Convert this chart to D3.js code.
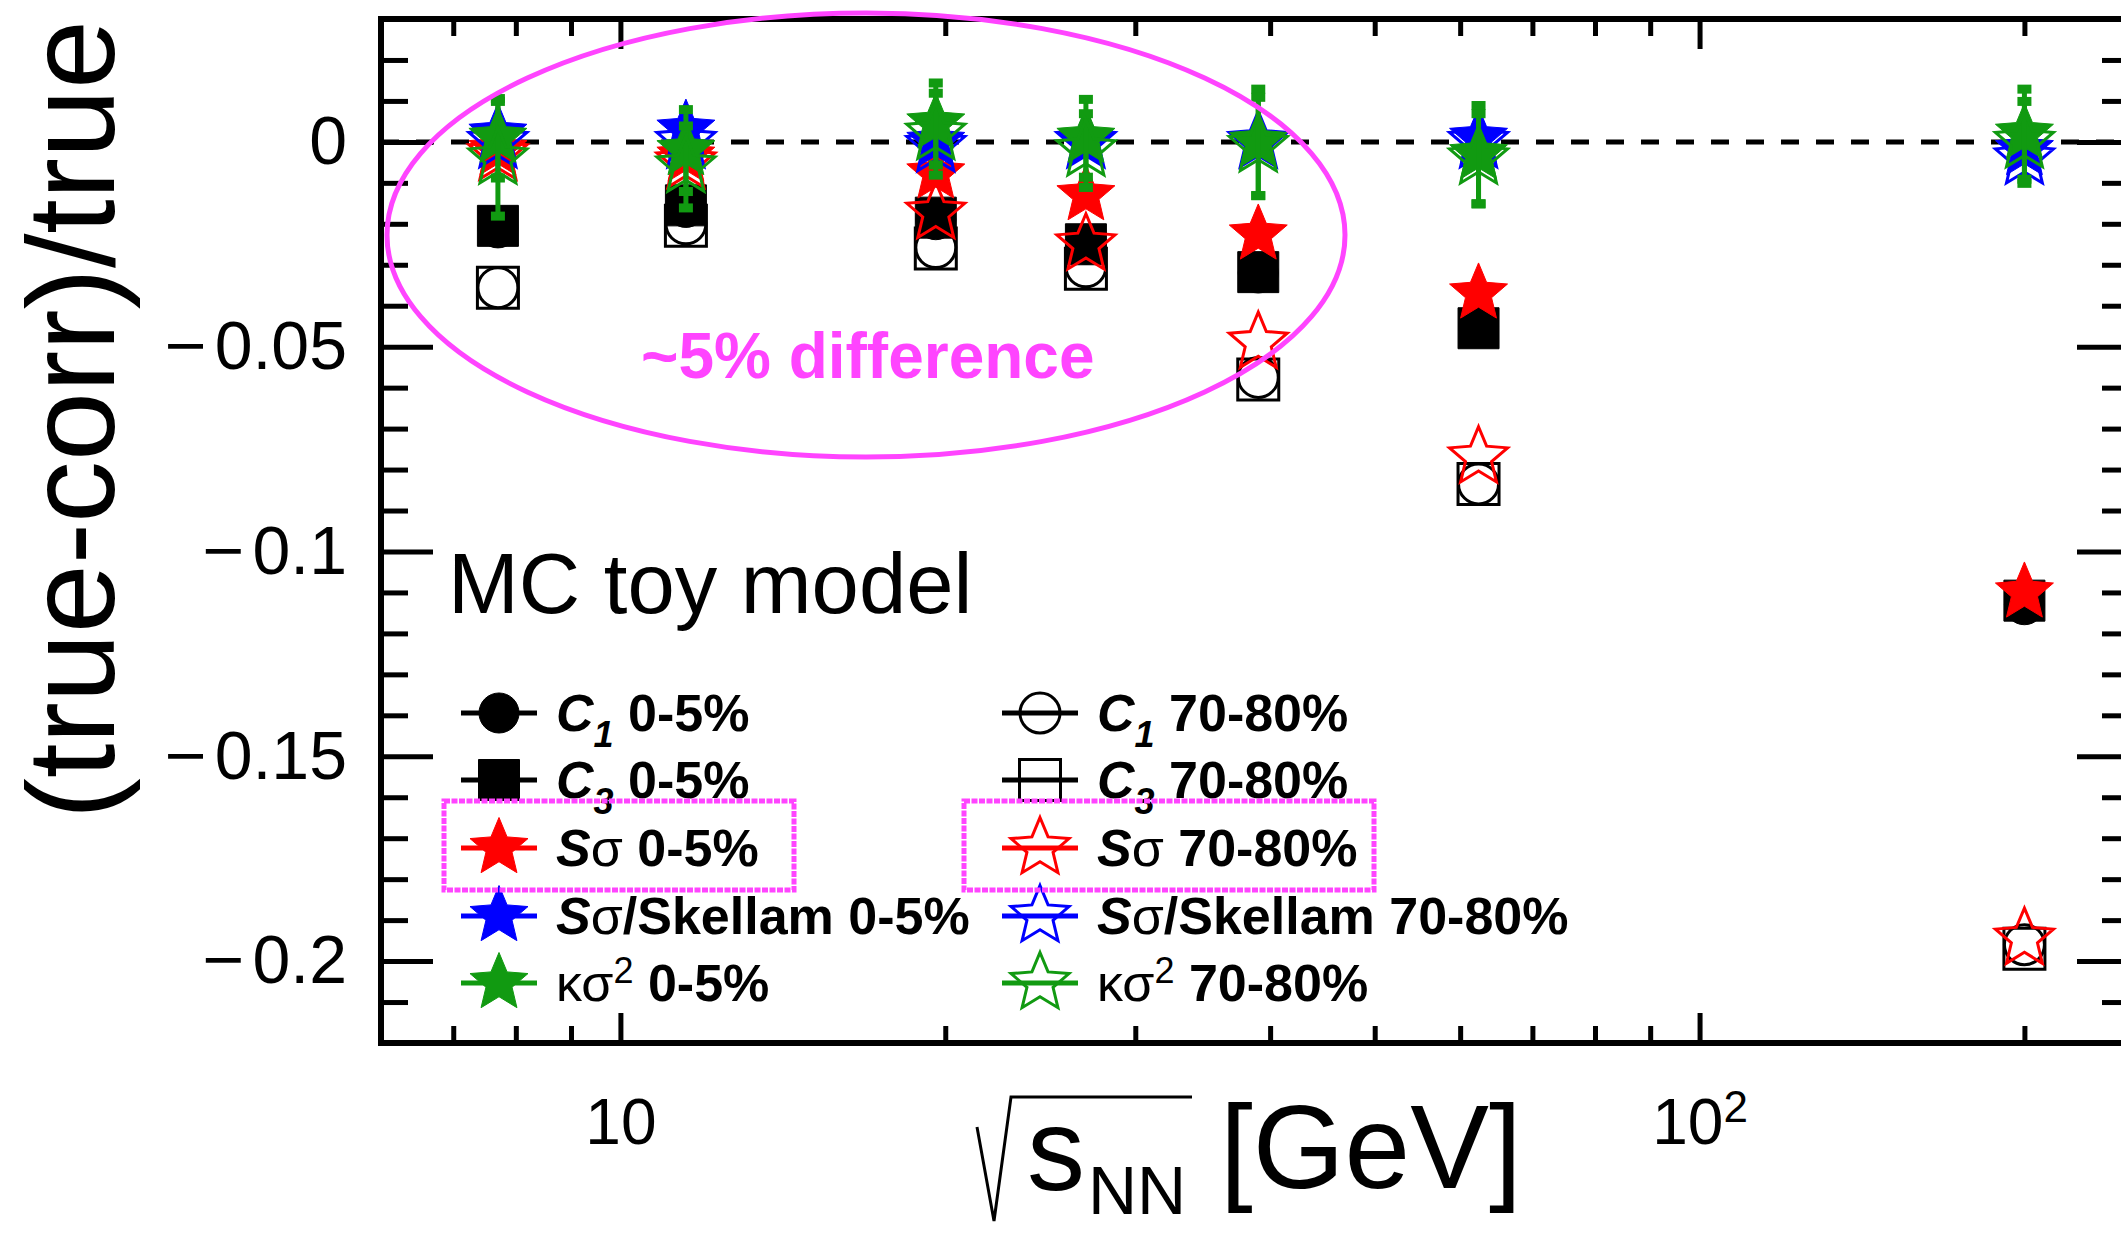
<!DOCTYPE html>
<html><head><meta charset="utf-8">
<script src="https://cdn.jsdelivr.net/npm/d3@7"></script>
<style>body{margin:0;background:#fff}</style>
</head><body>
<svg id="c" width="2121" height="1235" xmlns="http://www.w3.org/2000/svg"></svg>
<script>
// ---------------- data ----------------
const energies = [7.7, 11.5, 19.6, 27, 39, 62.4, 200];
const c1Central    = [-0.0210, -0.0160, -0.0190, -0.0250, -0.0320, -0.0450, -0.1130];
const c3Central    = [-0.0205, -0.0155, -0.0185, -0.0250, -0.0318, -0.0455, -0.1120];
const c1Peripheral = [-0.0356, -0.0200, -0.0258, -0.0305, -0.0575, -0.0835, -0.1960];
const c3Peripheral = [-0.0356, -0.0205, -0.0260, -0.0310, -0.0580, -0.0835, -0.1970];
const ssCentral    = [-0.0020, -0.0036, -0.0077, -0.0130, -0.0226, -0.0370, -0.1100];
const ssPeripheral = [-0.0030, -0.0050, -0.0173, -0.0250, -0.0490, -0.0770, -0.1945];
const skCentral    = [0.0020, 0.0030, 0.0000, 0.0000, 0.0000, 0.0010, -0.0020];
const skPeripheral = [0.0000, 0.0000, -0.0010, 0.0000, 0.0000, 0.0000, -0.0040];
const kCentral     = [0.0010, -0.0020, 0.0045, 0.0010, 0.0000, -0.0030, 0.0020];
const kCentralErr  = [0.0097, 0.0100, 0.0100, 0.0095, 0.0130, 0.0120, 0.0110];
const kPeripheral  = [-0.0040, -0.0060, 0.0020, -0.0020, -0.0010, -0.0040, 0.0000];
const kPeripheralErr = [0.0140, 0.0100, 0.0100, 0.0090, 0.0120, 0.0110, 0.0100];

const xTickValues = [10, 100];
const xTickLabels = ["10", "10"];
const xTickExponents = ["", "2"];
const xMinorTicks = [7, 8, 9, 20, 30, 40, 50, 60, 70, 80, 90, 200];
const yTickValues = [0, -0.05, -0.1, -0.15, -0.2];
const yTickLabels = ["0", "\u22120.05", "\u22120.1", "\u22120.15", "\u22120.2"];
const yMinorTicks = [-0.21, -0.19, -0.18, -0.17, -0.16, -0.14, -0.13, -0.12, -0.11, -0.09, -0.08, -0.07, -0.06, -0.04, -0.03, -0.02, -0.01, 0.01, 0.02];

// ---------------- setup ----------------
const FONT = "'Liberation Sans', Arial, Helvetica, sans-serif";
const RED = "#ff0000", BLUE = "#0000ff", GREEN = "#119a11", MAG = "#ff44ff";
const svg = d3.select("#c");
svg.append("rect").attr("width", 2121).attr("height", 1235).attr("fill", "#fff");

const L = 381, R = 2129, T = 19, B = 1043;
const x = d3.scaleLog().domain([6, 250]).range([L, R]);
const y = d3.scaleLinear().domain([-0.22, 0.03]).range([B, T]);

// ROOT-like five-pointed star (size = outer radius squared)
const rootStar = {
  draw(ctx, size) {
    const ro = Math.sqrt(size), ri = ro * 0.45;
    for (let k = 0; k < 10; k++) {
      const r = k % 2 ? ri : ro, a = -Math.PI / 2 + k * Math.PI / 5;
      const px = r * Math.cos(a), py = r * Math.sin(a);
      if (k === 0) ctx.moveTo(px, py); else ctx.lineTo(px, py);
    }
    ctx.closePath();
  }
};

const series = [
  {vals: c1Central,    shape: d3.symbolCircle, size: 1257, color: "#000", filled: true},
  {vals: c1Peripheral, shape: d3.symbolCircle, size: 1257, color: "#000", filled: false},
  {vals: c3Central,    shape: d3.symbolSquare, size: 1681, color: "#000", filled: true},
  {vals: c3Peripheral, shape: d3.symbolSquare, size: 1681, color: "#000", filled: false},
  {vals: ssCentral,    shape: rootStar, size: 930, color: RED, filled: true},
  {vals: ssPeripheral, shape: rootStar, size: 930, color: RED, filled: false},
  {vals: skCentral,    shape: rootStar, size: 930, color: BLUE, filled: true},
  {vals: skPeripheral, shape: rootStar, size: 930, color: BLUE, filled: false},
  {vals: kCentral,     errs: kCentralErr, shape: rootStar, size: 930, color: GREEN, filled: true},
  {vals: kPeripheral,  errs: kPeripheralErr, shape: rootStar, size: 930, color: GREEN, filled: false}
];

// ---------------- axes ----------------
function styleAxis(fs) {
  return g => {
    g.select(".domain").remove();
    g.selectAll(".tick line").attr("stroke", "#000").attr("stroke-width", 5);
    g.attr("font-family", FONT).attr("font-size", fs);
    g.selectAll(".tick text").attr("fill", "#000");
  };
}
// bottom
svg.append("g").attr("transform", `translate(0,${B})`)
  .call(d3.axisBottom(x).tickValues(xTickValues).tickSizeInner(-30).tickSizeOuter(0).tickPadding(56)
    .tickFormat((d, i) => xTickLabels[i]))
  .call(styleAxis(64))
  .call(g => g.selectAll(".tick text").each(function(d, i) {
    if (xTickExponents[i]) {
      d3.select(this).append("tspan").attr("dy", "-0.5em").attr("font-size", 44).text(xTickExponents[i]);
    }
  }));
svg.append("g").attr("transform", `translate(0,${B})`)
  .call(d3.axisBottom(x).tickValues(xMinorTicks).tickSizeInner(-17).tickSizeOuter(0).tickFormat(""))
  .call(styleAxis(64));
// top
svg.append("g").attr("transform", `translate(0,${T})`)
  .call(d3.axisTop(x).tickValues(xTickValues).tickSizeInner(-30).tickSizeOuter(0).tickFormat(""))
  .call(styleAxis(64));
svg.append("g").attr("transform", `translate(0,${T})`)
  .call(d3.axisTop(x).tickValues(xMinorTicks).tickSizeInner(-17).tickSizeOuter(0).tickFormat(""))
  .call(styleAxis(64));
// left
svg.append("g").attr("transform", `translate(${L},0)`)
  .call(d3.axisLeft(y).tickValues(yTickValues).tickSizeInner(-52).tickSizeOuter(0).tickPadding(34)
    .tickFormat((d, i) => yTickLabels[i]))
  .call(styleAxis(68))
  .call(g => g.selectAll(".tick text").each(function() {
    const s = d3.select(this), txt = s.text();
    if (txt.startsWith("\u2212")) {
      s.text(null);
      s.append("tspan").text("\u2212").attr("textLength", 42).attr("lengthAdjust", "spacingAndGlyphs");
      s.append("tspan").attr("dx", 8).text(txt.slice(1));
    }
  }));
svg.append("g").attr("transform", `translate(${L},0)`)
  .call(d3.axisLeft(y).tickValues(yMinorTicks).tickSizeInner(-27).tickSizeOuter(0).tickFormat(""))
  .call(styleAxis(68));
// right
svg.append("g").attr("transform", `translate(${R},0)`)
  .call(d3.axisRight(y).tickValues(yTickValues).tickSizeInner(-52).tickSizeOuter(0).tickFormat(""))
  .call(styleAxis(68));
svg.append("g").attr("transform", `translate(${R},0)`)
  .call(d3.axisRight(y).tickValues(yMinorTicks).tickSizeInner(-27).tickSizeOuter(0).tickFormat(""))
  .call(styleAxis(68));
// frame
svg.append("rect").attr("x", L).attr("y", T).attr("width", R - L).attr("height", B - T)
  .attr("fill", "none").attr("stroke", "#000").attr("stroke-width", 6);

// zero line
svg.append("line").attr("x1", L).attr("x2", R).attr("y1", y(0)).attr("y2", y(0))
  .attr("stroke", "#000").attr("stroke-width", 5).attr("stroke-dasharray", "18,17");

// ---------------- axis titles ----------------
svg.append("text").attr("transform", "translate(114,20) rotate(-90)")
  .attr("text-anchor", "end").attr("font-family", FONT).attr("font-size", 124)
  .text("(true-corr)/true");

svg.append("path").attr("d", "M977,1127 L994,1221 L1011,1097 L1192,1097")
  .attr("fill", "none").attr("stroke", "#000").attr("stroke-width", 3);
svg.append("text").attr("x", 1027).attr("y", 1190).attr("font-family", FONT).attr("font-size", 116).text("s");
svg.append("text").attr("x", 1088).attr("y", 1214).attr("font-family", FONT).attr("font-size", 68).text("NN");
svg.append("text").attr("x", 1220).attr("y", 1188).attr("font-family", FONT).attr("font-size", 118).text("[GeV]");

// ---------------- data marks ----------------
const plot = svg.append("g");
series.forEach(s => {
  const g = plot.append("g");
  if (s.errs) {
    energies.forEach((e, i) => {
      const y1 = y(s.vals[i] + s.errs[i]), y2 = y(s.vals[i] - s.errs[i]);
      g.append("line").attr("x1", x(e)).attr("x2", x(e)).attr("y1", y1).attr("y2", y2)
        .attr("stroke", s.color).attr("stroke-width", 5);
      [y1, y2].forEach(yy => g.append("rect").attr("x", x(e) - 7).attr("y", yy - 4)
        .attr("width", 14).attr("height", 9).attr("fill", s.color));
    });
  }
  g.selectAll("path.m").data(energies).join("path").attr("class", "m")
    .attr("transform", (e, i) => `translate(${x(e)},${y(s.vals[i])})`)
    .attr("d", d3.symbol(s.shape, s.size)())
    .attr("fill", s.filled ? s.color : "none")
    .attr("stroke", s.color).attr("stroke-width", s.filled ? 1 : 3);
});

// ---------------- text & legend ----------------
svg.append("text").attr("x", 448).attr("y", 613).attr("font-family", FONT).attr("font-size", 85).text("MC toy model");

const legendLabels = [
  [{t: "C", i: 1, b: 1}, {t: "1", i: 1, b: 1, sub: 1}, {t: " 0-5%", b: 1}],
  [{t: "C", i: 1, b: 1}, {t: "3", i: 1, b: 1, sub: 1}, {t: " 0-5%", b: 1}],
  [{t: "S", i: 1, b: 1}, {t: "\u03c3"}, {t: " 0-5%", b: 1}],
  [{t: "S", i: 1, b: 1}, {t: "\u03c3"}, {t: "/Skellam 0-5%", b: 1}],
  [{t: "\u03ba\u03c3"}, {t: "2", sup: 1}, {t: " 0-5%", b: 1}],
  [{t: "C", i: 1, b: 1}, {t: "1", i: 1, b: 1, sub: 1}, {t: " 70-80%", b: 1}],
  [{t: "C", i: 1, b: 1}, {t: "3", i: 1, b: 1, sub: 1}, {t: " 70-80%", b: 1}],
  [{t: "S", i: 1, b: 1}, {t: "\u03c3"}, {t: " 70-80%", b: 1}],
  [{t: "S", i: 1, b: 1}, {t: "\u03c3"}, {t: "/Skellam 70-80%", b: 1}],
  [{t: "\u03ba\u03c3"}, {t: "2", sup: 1}, {t: " 70-80%", b: 1}]
];
const legendOrder = [0, 2, 4, 6, 8, 1, 3, 5, 7, 9]; // series index per legend slot
const colX = [499, 1040], rowY = [713, 780, 848, 916, 983];
legendOrder.forEach((si, k) => {
  const s = series[si];
  const col = Math.floor(k / 5), row = k % 5;
  const cx = colX[col], cy = rowY[row];
  svg.append("line").attr("x1", cx - 38).attr("x2", cx + 38).attr("y1", cy).attr("y2", cy)
    .attr("stroke", s.color).attr("stroke-width", 5);
  svg.append("path").attr("transform", `translate(${cx},${cy})`).attr("d", d3.symbol(s.shape, s.size)())
    .attr("fill", s.filled ? s.color : "none").attr("stroke", s.color).attr("stroke-width", s.filled ? 1 : 3);
  const t = svg.append("text").attr("x", cx + 57).attr("y", cy + 18)
    .attr("font-family", FONT).attr("font-size", 52);
  let off = 0;
  legendLabels[k].forEach(p => {
    const sp = t.append("tspan").text(p.t)
      .attr("font-weight", p.b ? "bold" : "normal")
      .attr("font-style", p.i ? "italic" : "normal");
    let target = 0;
    if (p.sub) { target = 16; sp.attr("font-size", 36); }
    if (p.sup) { target = -18; sp.attr("font-size", 36); }
    if (target !== off) { sp.attr("dy", target - off); off = target; }
  });
});

// ---------------- annotations ----------------
svg.append("ellipse").attr("cx", 866).attr("cy", 235).attr("rx", 479).attr("ry", 222)
  .attr("fill", "none").attr("stroke", MAG).attr("stroke-width", 5);
svg.append("text").attr("x", 641).attr("y", 378).attr("font-family", FONT).attr("font-size", 64)
  .attr("font-weight", "bold").attr("fill", MAG).text("~5% difference");
svg.append("rect").attr("x", 444).attr("y", 801).attr("width", 350).attr("height", 89)
  .attr("fill", "none").attr("stroke", MAG).attr("stroke-width", 5).attr("stroke-dasharray", "6,1.5");
svg.append("rect").attr("x", 964).attr("y", 801).attr("width", 410).attr("height", 89)
  .attr("fill", "none").attr("stroke", MAG).attr("stroke-width", 5).attr("stroke-dasharray", "6,1.5");
</script>
</body></html>
